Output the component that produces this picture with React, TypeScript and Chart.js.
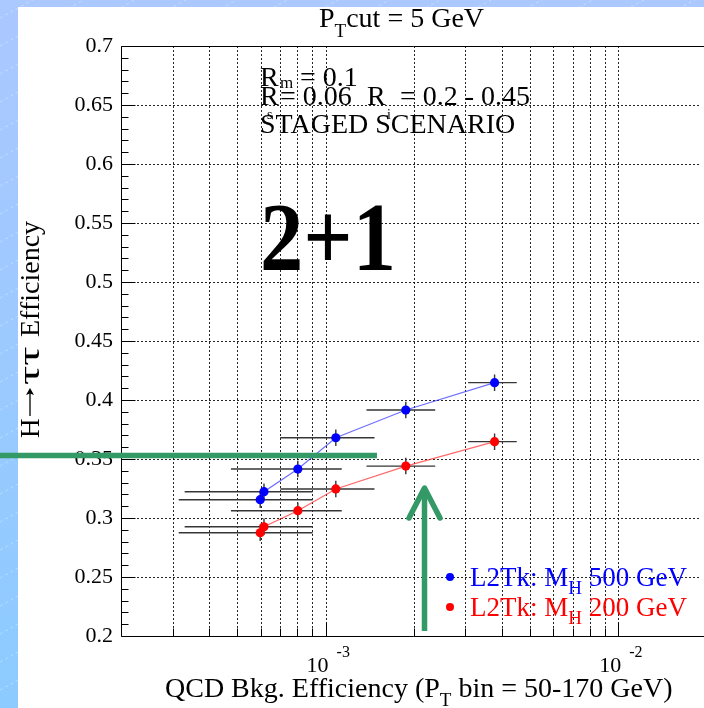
import React, { useEffect, useRef } from "react";
import { Chart, registerables } from "chart.js";

Chart.register(...registerables);

const SERIF = '"Liberation Serif", "Times New Roman", Times, serif';

// ---- data ----
const qcdEff = [5.98e-4, 6.16e-4, 8.04e-4, 1.084e-3, 1.88e-3, 3.78e-3];
const qcdEffLow = [3.15e-4, 3.3e-4, 4.75e-4, 7.0e-4, 1.38e-3, 3.07e-3];
const qcdEffHigh = [9.03e-4, 9.03e-4, 1.136e-3, 1.47e-3, 2.37e-3, 4.5e-3];
const effMH500 = [0.3155, 0.3223, 0.3415, 0.368, 0.3915, 0.4147];
const effMH200 = [0.2875, 0.2926, 0.3062, 0.3246, 0.344, 0.3647];
const effErr500 = [0.007, 0.007, 0.007, 0.007, 0.007, 0.007];
const effErr200 = [0.007, 0.007, 0.007, 0.007, 0.007, 0.007];

const xGridValues = [
  3e-4, 4e-4, 5e-4, 6e-4, 7e-4, 8e-4, 9e-4, 1e-3, 2e-3, 3e-3, 4e-3, 5e-3, 6e-3,
  7e-3, 8e-3, 9e-3, 1e-2,
];
const xDecadeTicks = [1e-3, 1e-2];
const xDecadeExponents = ["-3", "-2"];
const yGridValues = [0.25, 0.3, 0.35, 0.4, 0.45, 0.5, 0.55, 0.6, 0.65];

const X_MIN = 2e-4;
const X_MAX = 0.01894;
const Y_MIN = 0.2;
const Y_MAX = 0.7;

const legendMain = ["L2Tk: M", "L2Tk: M"];
const legendSub = ["H", "H"];
const legendTail = [" 500 GeV", " 200 GeV"];
const seriesColors = ["#0000ff", "#ff0000"];
const lineColors = ["rgba(50,50,255,0.7)", "rgba(255,40,40,0.7)"];

const GREEN = "#339966";

type Part = { t: string; size: number; dy?: number; bold?: boolean; dx?: number };

function drawParts(ctx: CanvasRenderingContext2D, x: number, y: number, parts: Part[]) {
  let cx = x;
  for (const p of parts) {
    cx += p.dx || 0;
    ctx.font = `${p.bold ? "bold " : ""}${p.size}px ${SERIF}`;
    ctx.fillText(p.t, cx, y + (p.dy || 0));
    cx += ctx.measureText(p.t).width;
  }
  return cx;
}

const rootPlugin = {
  id: "rootStyle",
  beforeDraw(chart: any) {
    const ctx: CanvasRenderingContext2D = chart.ctx;
    const W = chart.width;
    const H = chart.height;
    ctx.save();
    const g = ctx.createLinearGradient(0, 0, 0, H);
    g.addColorStop(0, "#abc8ff");
    g.addColorStop(1, "#8ccbff");
    ctx.fillStyle = g;
    ctx.fillRect(0, 0, W, H);
    ctx.save();
    ctx.beginPath();
    ctx.rect(0, 0, W, 7);
    ctx.rect(0, 0, 18, H);
    ctx.clip();
    ctx.strokeStyle = "rgba(255,255,255,0.35)";
    ctx.setLineDash([3, 3]);
    ctx.lineWidth = 1;
    for (let k = -10; k < H + 420; k += 28) {
      ctx.beginPath();
      ctx.moveTo(0, k);
      ctx.lineTo(W, k - W * 0.55);
      ctx.stroke();
    }
    ctx.restore();
    ctx.fillStyle = "#ffffff";
    ctx.fillRect(18, 7, W - 18, H - 7);
    ctx.restore();
  },
  beforeDatasetsDraw(chart: any) {
    const ctx: CanvasRenderingContext2D = chart.ctx;
    const xs = chart.scales.x;
    const ys = chart.scales.y;
    const a = chart.chartArea;
    ctx.save();
    ctx.strokeStyle = "rgba(0,0,0,0.85)";
    ctx.lineWidth = 1;
    ctx.setLineDash([2, 2]);
    for (const v of xGridValues) {
      const px = Math.round(xs.getPixelForValue(v)) + 0.5;
      ctx.beginPath();
      ctx.moveTo(px, a.top);
      ctx.lineTo(px, a.bottom);
      ctx.stroke();
    }
    for (const v of yGridValues) {
      const py = Math.round(ys.getPixelForValue(v)) + 0.5;
      ctx.beginPath();
      ctx.moveTo(a.left, py);
      ctx.lineTo(a.right, py);
      ctx.stroke();
    }
    ctx.setLineDash([]);
    ctx.strokeStyle = "#363636";
    ctx.lineWidth = 1.4;
    const series = [
      [effMH500, effErr500],
      [effMH200, effErr200],
    ];
    for (const [vals, errs] of series) {
      for (let i = 0; i < qcdEff.length; i++) {
        const py = ys.getPixelForValue(vals[i]);
        const px = xs.getPixelForValue(qcdEff[i]);
        ctx.beginPath();
        ctx.moveTo(xs.getPixelForValue(qcdEffLow[i]), py);
        ctx.lineTo(xs.getPixelForValue(qcdEffHigh[i]), py);
        ctx.moveTo(px, ys.getPixelForValue(vals[i] - errs[i]));
        ctx.lineTo(px, ys.getPixelForValue(vals[i] + errs[i]));
        ctx.stroke();
      }
    }
    ctx.restore();
  },
  afterDatasetsDraw(chart: any) {
    const ctx: CanvasRenderingContext2D = chart.ctx;
    const xs = chart.scales.x;
    const ys = chart.scales.y;
    const a = chart.chartArea;
    ctx.save();
    ctx.strokeStyle = "#000";
    ctx.lineWidth = 1;
    const L = Math.round(a.left) + 0.5;
    const T = Math.round(a.top) + 0.5;
    const B = Math.round(a.bottom) + 0.5;
    ctx.beginPath();
    ctx.moveTo(a.right + 10, T);
    ctx.lineTo(L, T);
    ctx.lineTo(L, B);
    ctx.lineTo(a.right + 10, B);
    ctx.stroke();
    for (let k = 0; k <= 50; k++) {
      const v = Y_MIN + k * 0.01;
      const py = Math.round(ys.getPixelForValue(v)) + 0.5;
      const len = k % 5 === 0 ? 14 : 7;
      ctx.beginPath();
      ctx.moveTo(L, py);
      ctx.lineTo(L + len, py);
      ctx.stroke();
    }
    for (const v of xGridValues) {
      const px = Math.round(xs.getPixelForValue(v)) + 0.5;
      const len = xDecadeTicks.includes(v) ? 14 : 8;
      ctx.beginPath();
      ctx.moveTo(px, B);
      ctx.lineTo(px, B - len);
      ctx.stroke();
    }
    ctx.fillStyle = "#000";
    ctx.textBaseline = "alphabetic";
    xDecadeTicks.forEach((v, i) => {
      const px = xs.getPixelForValue(v);
      ctx.font = `22px ${SERIF}`;
      ctx.textAlign = "right";
      ctx.fillText("10", px + 3, 671.5);
      ctx.textAlign = "left";
      ctx.font = `16px ${SERIF}`;
      ctx.fillText(xDecadeExponents[i], px + 11, 657);
    });
    ctx.textAlign = "left";
    drawParts(ctx, 165, 697, [
      { t: "QCD Bkg. Efficiency (P", size: 28 },
      { t: "T", size: 19, dy: 9 },
      { t: " bin = 50-170 GeV)", size: 28 },
    ]);
    // y title (rotated)
    ctx.save();
    ctx.translate(38.5, 438);
    ctx.rotate(-Math.PI / 2);
    drawParts(ctx, 0, 0, [{ t: "H", size: 27 }]);
    ctx.strokeStyle = "#000";
    ctx.lineWidth = 1.3;
    ctx.beginPath();
    ctx.moveTo(22, -8.5);
    ctx.lineTo(48, -8.5);
    ctx.stroke();
    ctx.beginPath();
    ctx.moveTo(50, -8.5);
    ctx.lineTo(43, -12.5);
    ctx.lineTo(44.5, -8.5);
    ctx.lineTo(43, -4.5);
    ctx.closePath();
    ctx.fill();
    ctx.save();
    ctx.translate(53, 0);
    ctx.scale(1.6, 1);
    drawParts(ctx, 0, 0, [{ t: "\u03c4\u03c4", size: 30 }]);
    ctx.restore();
    drawParts(ctx, 101, 0, [{ t: "Efficiency", size: 28 }]);
    ctx.restore();
    // title
    drawParts(ctx, 319, 27, [
      { t: "P", size: 28 },
      { t: "T", size: 19, dy: 10 },
      { t: "cut = 5 GeV", size: 28 },
    ]);
    // text block
    drawParts(ctx, 260, 86, [{ t: "R", size: 28 }]);
    drawParts(ctx, 280, 88, [{ t: "m", size: 17 }]);
    drawParts(ctx, 300, 86, [{ t: "= 0.1", size: 28 }]);
    drawParts(ctx, 260, 105, [{ t: "R", size: 28 }]);
    drawParts(ctx, 267, 119, [{ t: "s", size: 14 }]);
    drawParts(ctx, 280, 105, [{ t: "= 0.06", size: 28 }]);
    drawParts(ctx, 367, 105, [{ t: "R", size: 28 }]);
    drawParts(ctx, 387, 119, [{ t: "i", size: 14 }]);
    drawParts(ctx, 400, 105, [{ t: "= 0.2 - 0.45", size: 28 }]);
    drawParts(ctx, 260, 133, [{ t: "STAGED SCENARIO", size: 28 }]);
    ctx.save();
    ctx.translate(260, 270);
    ctx.scale(0.884, 1);
    drawParts(ctx, 0, 0, [{ t: "2+1", size: 98, bold: true }]);
    ctx.restore();
    // legend
    const legendY = [586, 616];
    const dotY = [577, 607];
    for (let i = 0; i < 2; i++) {
      ctx.fillStyle = seriesColors[i];
      ctx.beginPath();
      ctx.arc(450, dotY[i], 4, 0, Math.PI * 2);
      ctx.fill();
      drawParts(ctx, 470, legendY[i], [
        { t: legendMain[i], size: 27 },
        { t: legendSub[i], size: 19, dy: 8 },
        { t: legendTail[i], size: 27 },
      ]);
    }
    // green overlay annotations
    ctx.strokeStyle = GREEN;
    ctx.lineWidth = 5.5;
    ctx.lineCap = "butt";
    ctx.beginPath();
    ctx.moveTo(0, 455.5);
    ctx.lineTo(377, 455.5);
    ctx.stroke();
    ctx.beginPath();
    ctx.moveTo(424.5, 631);
    ctx.lineTo(424.5, 489);
    ctx.stroke();
    ctx.lineCap = "round";
    ctx.lineJoin = "round";
    ctx.beginPath();
    ctx.moveTo(409, 518);
    ctx.lineTo(424.5, 488);
    ctx.lineTo(440, 518);
    ctx.stroke();
    ctx.restore();
  },
};

export default function App() {
  const ref = useRef<HTMLCanvasElement | null>(null);
  useEffect(() => {
    if (!ref.current) return;
    const chart = new Chart(ref.current, {
      type: "scatter",
      data: {
        datasets: [
          {
            label: "L2Tk: MH 500 GeV",
            data: qcdEff.map((x, i) => ({ x, y: effMH500[i] })),
            showLine: true,
            borderColor: lineColors[0],
            borderWidth: 1.2,
            backgroundColor: seriesColors[0],
            pointBackgroundColor: seriesColors[0],
            pointBorderWidth: 0,
            pointRadius: 4.6,
          },
          {
            label: "L2Tk: MH 200 GeV",
            data: qcdEff.map((x, i) => ({ x, y: effMH200[i] })),
            showLine: true,
            borderColor: lineColors[1],
            borderWidth: 1.2,
            backgroundColor: seriesColors[1],
            pointBackgroundColor: seriesColors[1],
            pointBorderWidth: 0,
            pointRadius: 4.6,
          },
        ],
      },
      options: {
        responsive: false,
        animation: false,
        devicePixelRatio: 1,
        layout: { padding: { left: 0, top: 46, right: 0, bottom: 72 } },
        plugins: { legend: { display: false }, tooltip: { enabled: false } },
        scales: {
          x: { type: "logarithmic", min: X_MIN, max: X_MAX, display: false },
          y: {
            type: "linear",
            min: Y_MIN,
            max: Y_MAX,
            afterFit: (s: any) => {
              s.width = 121;
            },
            grid: { display: false, drawTicks: false },
            border: { display: false },
            ticks: {
              stepSize: 0.05,
              padding: 8,
              color: "#000",
              font: { family: SERIF, size: 22 },
              autoSkip: false,
              callback: (v: any) => String(Number(Number(v).toFixed(2))),
            },
          },
        },
      },
      plugins: [rootPlugin],
    });
    return () => chart.destroy();
  }, []);
  return (
    <div
      style={{
        position: "fixed",
        left: 0,
        top: 0,
        width: 704,
        height: 708,
        overflow: "hidden",
      }}
    >
      <canvas ref={ref} width={704} height={708} style={{ display: "block" }} />
    </div>
  );
}
